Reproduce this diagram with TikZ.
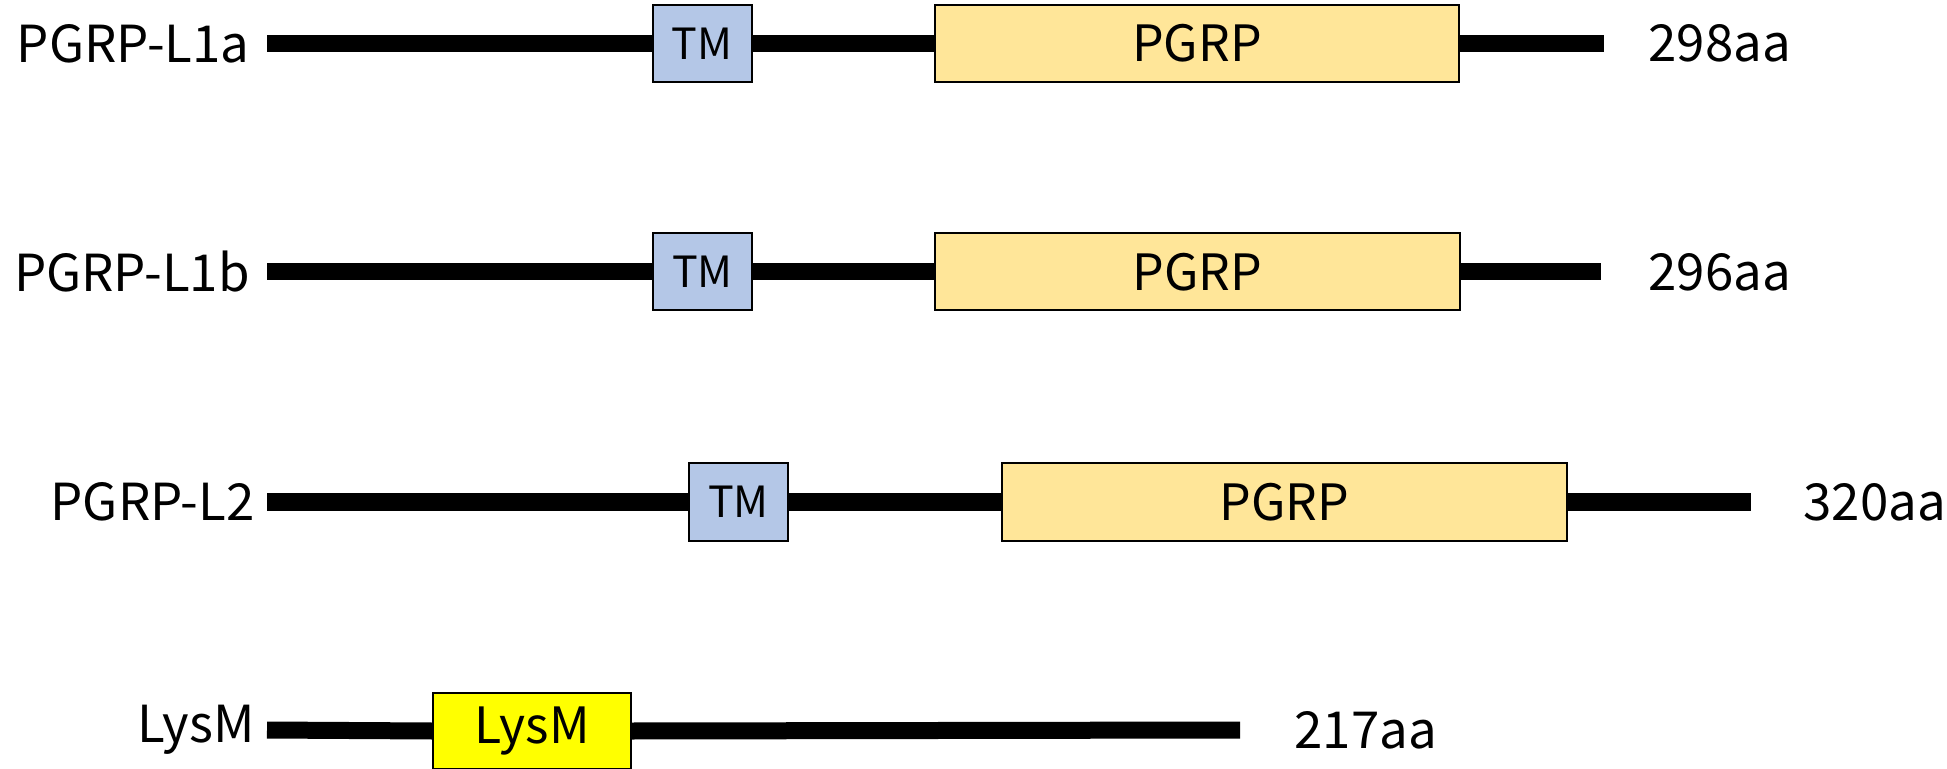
\documentclass[tikz,border=0pt]{standalone}
\usepackage{fontspec}
\setmainfont{Noto Sans CJK JP}
\usepackage{tikz}
\usetikzlibrary{positioning}
\definecolor{tmblue}{HTML}{B4C7E7}
\definecolor{pgrpyellow}{HTML}{FFE699}
\definecolor{lysyellow}{HTML}{FFFF00}
\tikzstyle{invis} = [draw=none, inner sep=0pt, font=\fontsize{25.5}{28}\selectfont]
\tikzstyle{tmbox} = [draw, line width=1pt, fill=tmblue, minimum width=49.5pt, minimum height=38.5pt, inner sep=0pt, font=\fontsize{21.5}{24}\selectfont]
\tikzstyle{pgrpbox} = [draw, line width=1pt, fill=pgrpyellow, minimum height=38.5pt, inner sep=0pt, font=\fontsize{25}{28}\selectfont]
\tikzstyle{lysbox} = [draw, line width=1pt, fill=lysyellow, minimum width=99pt, minimum height=38pt, inner sep=0pt, font=\fontsize{25}{28}\selectfont]
\tikzstyle{chain} = [-, line width=8.5pt]

\begin{document}
\begin{tikzpicture}[x=0.5pt,y=0.5pt]

    \useasboundingbox (0,0) rectangle (1947,-769);

    \coordinate (s1) at (267,-43.5);
    \coordinate (e1) at (1604,-43.5);
    \node[tmbox] at (702,-43.5) (tm1) [] {TM};
    \node[pgrpbox, minimum width=262pt] at (1197,-43.5) (pg1) [] {PGRP};

    \path
    (s1) edge [chain] node {} (tm1.west)
    (tm1.east) edge [chain] node {} (pg1.west)
    (pg1.east) edge [chain] node {} (e1);

    \node[invis, anchor=east] at (250,-43.5) (n1) [] {PGRP-L1a};
    \node[invis, anchor=west] at (1648,-43.5) (l1) [] {298aa};

    %=====================

    \coordinate (s2) at (267,-272);
    \coordinate (e2) at (1601,-272);
    \node[tmbox] at (702.5,-272) (tm2) [] {TM};
    \node[pgrpbox, minimum width=262.5pt] at (1197.5,-272) (pg2) [] {PGRP};

    \path
    (s2) edge [chain] node {} (tm2.west)
    (tm2.east) edge [chain] node {} (pg2.west)
    (pg2.east) edge [chain] node {} (e2);

    \node[invis, anchor=east] at (250,-272) (n2) [] {PGRP-L1b};
    \node[invis, anchor=west] at (1648,-272) (l2) [] {296aa};

    %=====================

    \coordinate (s3) at (267,-502);
    \coordinate (e3) at (1751,-502);
    \node[tmbox] at (738.5,-502) (tm3) [] {TM};
    \node[pgrpbox, minimum width=282.5pt] at (1284.5,-502) (pg3) [] {PGRP};

    \path
    (s3) edge [chain] node {} (tm3.west)
    (tm3.east) edge [chain] node {} (pg3.west)
    (pg3.east) edge [chain] node {} (e3);

    \node[invis, anchor=east] at (255,-502) (n3) [] {PGRP-L2};
    \node[invis, anchor=west] at (1803,-502) (l3) [] {320aa};

    %=====================

    \coordinate (s4) at (267,-730);
    \coordinate (e4) at (1240,-730);
    \node[lysbox] at (532,-731) (ly4) [] {LysM};

    \path
    (s4) edge [chain] node {} (ly4.west)
    (ly4.east) edge [chain] node {} (e4);

    \node[invis, anchor=east] at (255,-730) (n4) [] {LysM};
    \node[invis, anchor=west] at (1294,-730) (l4) [] {217aa};

\end{tikzpicture}
\end{document}
